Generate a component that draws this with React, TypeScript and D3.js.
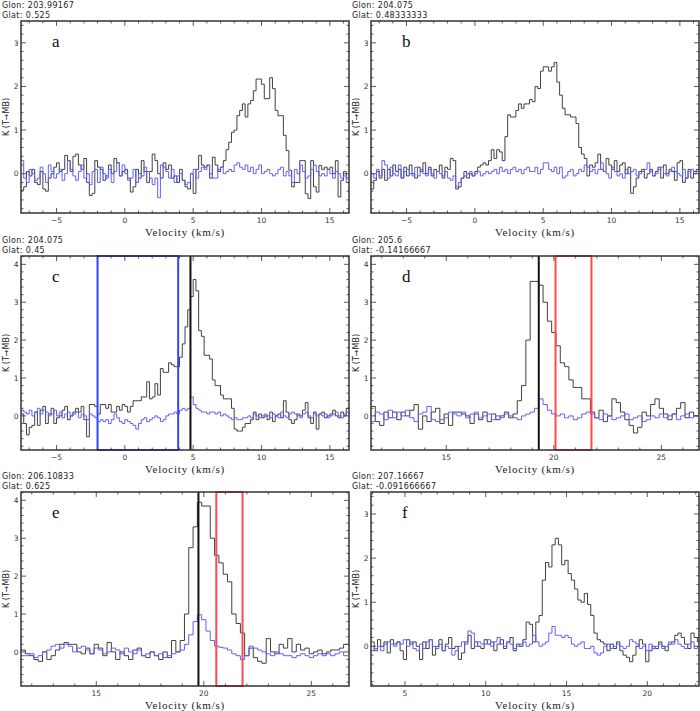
import * as React from "react";
import * as d3 from "d3";

// channel width of the spectra (km/s)
const DV = 0.2;

const letters = ["a", "b", "c", "d", "e", "f"];
const glon = ["203.99167", "204.075", "204.075", "205.6", "206.10833", "207.16667"];
const glat = ["0.525", "0.48333333", "0.45", "-0.14166667", "0.625", "-0.091666667"];

// axis ranges per panel
const xRanges = [[-7.6, 16.4], [-7.6, 16.4], [-7.6, 16.4], [11.5, 26.75], [11.5, 26.75], [2.9, 23.2]];
const yRanges = [[-0.9, 3.5], [-0.9, 3.5], [-0.9, 4.22], [-0.9, 4.22], [-0.9, 4.22], [-0.9, 3.5]];
const vStart = [-7.6, -7.6, -7.6, 11.5, 11.5, 2.9];

// marked velocities: black line, boxed window
const peakLine = [null, null, 4.8, 19.3, 19.75, null];
const windows = [null, null, [-2, 3.9], [20.08, 21.75], [20.58, 21.8], null];

const blackA = [
  -0.38, -0.3, 0.05, -0.05, 0.1, -0.2, -0.25, 0.05, -0.35, -0.4,
  -0.1, 0.0, 0.15, 0.25, 0.05, 0.1, 0.42, 0.3, 0.05, 0.4,
  0.45, 0.2, 0.1, 0.35, -0.2, -0.5, -0.45, 0.3, 0.15, 0.1,
  -0.15, -0.05, 0.2, 0.0, 0.35, 0.25, -0.05, 0.05, 0.1, -0.1,
  -0.42, -0.3, 0.1, -0.1, 0.3, 0.05, -0.2, 0.05, 0.45, 0.3,
  0.0, -0.1, 0.25, 0.1, 0.2, -0.1, -0.05, -0.2, 0.1, -0.15,
  -0.3, -0.35, 0.0, -0.45, 0.1, 0.42, 0.2, 0.15, 0.2, -0.1,
  0.38, 0.2, 0.05, 0.15, 0.3, 0.55, 0.72, 0.95, 1.0, 1.33,
  1.45, 1.6, 1.3, 1.6, 1.68, 1.9, 2.17, 2.17, 2.05, 1.72,
  1.72, 2.2, 1.95, 1.45, 1.33, 1.33, 0.88, 0.53, 0.08, -0.3,
  -0.2, -0.2, 0.3, 0.3, -0.46, -0.57, 0.3, -0.3, -0.42, 0.19,
  0.1, 0.15, 0.1, 0.15, 0.0, 0.3, -0.53, -0.15, 0.05, -0.1,
];
const blueA = [
  0.3, -0.1, -0.2, 0.1, 0.0, -0.15, -0.1, 0.15, 0.0, -0.2,
  0.2, 0.05, -0.1, 0.0, 0.1, -0.15, 0.0, 0.3, 0.1, -0.05,
  -0.15, 0.05, 0.2, -0.1, 0.0, -0.25, 0.05, 0.1, -0.2, 0.15,
  0.0, -0.1, 0.1, -0.2, 0.05, 0.25, -0.05, 0.2, 0.0, -0.15,
  -0.1, 0.1, -0.2, 0.0, -0.05, 0.15, 0.05, -0.1, -0.25, -0.1,
  -0.55, 0.2, 0.15, 0.05, -0.1, 0.1, -0.2, -0.05, 0.0, -0.15,
  -0.25, -0.2, 0.0, 0.1, -0.1, 0.05, 0.15, 0.1, 0.2, 0.0,
  -0.1, -0.1, 0.1, 0.15, 0.0, 0.05, 0.1, 0.05, 0.2, 0.25,
  0.15, 0.1, 0.2, 0.05, 0.15, 0.0, 0.1, 0.2, 0.0, 0.05,
  0.1, 0.0, -0.05, 0.0, 0.1, 0.15, -0.05, 0.05, -0.05, -0.2,
  0.1, 0.0, 0.2, 0.05, -0.1, -0.05, 0.1, 0.2, 0.05, -0.05,
  0.0, -0.05, 0.1, 0.0, -0.1, 0.05, 0.0, -0.1, -0.05, -0.2,
];

const blackB = [
  -0.35, -0.15, 0.05, -0.1, 0.1, -0.15, 0.1, -0.05, 0.2, 0.05,
  0.1, -0.1, 0.15, -0.05, 0.2, 0.0, -0.1, 0.15, 0.05, 0.25,
  0.0, 0.15, -0.05, 0.1, 0.05, 0.2, -0.1, 0.15, 0.1, 0.35,
  0.3, -0.35, -0.3, -0.1, 0.05, -0.1, 0.0, -0.05, 0.05, 0.15,
  0.2, 0.25, 0.2, 0.3, 0.55, 0.35, 0.55, 0.5, 0.3, 0.85,
  1.35, 1.3, 1.3, 1.45, 1.6, 1.5, 1.6, 1.6, 1.7, 1.65,
  2.0, 1.95, 2.35, 2.45, 2.45, 2.35, 2.45, 2.55, 2.1, 1.8,
  1.5, 1.35, 1.35, 1.3, 1.3, 1.15, 0.6, 0.45, 0.35, -0.05,
  0.2, 0.15, 0.25, 0.45, 0.1, 0.05, 0.35, 0.2, 0.1, 0.3,
  0.05, 0.2, 0.25, 0.0, 0.15, -0.45, -0.3, -0.1, 0.05, 0.1,
  -0.1, 0.0, 0.1, -0.05, 0.05, 0.15, -0.1, 0.2, 0.0, 0.1,
  0.05, -0.15, 0.25, 0.3, -0.2, -0.1, 0.1, -0.1, 0.05, 0.1,
];
const blueB = [
  0.0, -0.1, 0.1, -0.05, 0.3, 0.2, -0.1, 0.15, 0.0, -0.05,
  0.2, -0.1, 0.05, 0.1, 0.0, -0.05, 0.15, -0.05, 0.1, 0.0,
  -0.05, 0.1, 0.0, -0.1, 0.05, 0.0, -0.05, 0.05, -0.1, -0.15,
  -0.05, -0.3, -0.2, -0.1, -0.05, 0.0, 0.05, -0.05, 0.0, 0.05,
  -0.05, 0.0, 0.05, 0.0, 0.05, 0.1, 0.0, 0.15, 0.05, 0.1,
  0.0, 0.1, 0.15, 0.05, 0.1, 0.0, 0.1, 0.15, 0.05, 0.05,
  0.15, 0.0, 0.1, 0.25, 0.25, 0.1, 0.05, 0.15, 0.0, 0.15,
  -0.1, -0.05, 0.05, 0.1, -0.05, 0.0, 0.1, 0.05, 0.2, 0.15,
  0.05, 0.1, 0.0, 0.1, 0.25, 0.05, 0.0, -0.1, 0.15, 0.05,
  -0.05, 0.0, -0.1, 0.1, 0.0, 0.05, 0.1, -0.05, 0.0, 0.05,
  0.1, 0.25, 0.05, -0.05, 0.0, 0.1, 0.15, 0.0, -0.05, 0.05,
  0.15, 0.05, 0.0, -0.05, 0.1, -0.1, 0.05, 0.1, 0.0, 0.05,
];

const blackC = [
  0.05, -0.2, -0.5, -0.3, -0.25, 0.1, -0.25, 0.15, 0.25, -0.2,
  0.05, 0.2, -0.2, -0.05, 0.0, 0.15, 0.25, -0.1, 0.0, 0.1,
  0.2, 0.1, 0.25, -0.1, -0.55, 0.3, 0.3, 0.25, 0.05, 0.3,
  0.3, 0.2, 0.3, 0.1, 0.1, 0.25, 0.15, 0.3, 0.25, 0.1,
  0.25, 0.4, 0.4, 0.4, 0.5, 0.5, 0.9, 0.45, 0.5, 0.85,
  0.55, 1.25, 1.15, 1.15, 1.4, 1.35, 1.3, 1.3, 1.55, 1.9,
  2.35, 2.8, 3.15, 3.6, 3.3, 2.25, 2.1, 1.6, 1.6, 1.5,
  0.95, 0.8, 0.8, 0.55, 0.45, 0.45, 0.45, 0.2, -0.35, -0.4,
  -0.4, -0.3, -0.2, -0.2, -0.1, 0.1, -0.1, 0.05, -0.05, 0.0,
  -0.1, 0.1, -0.15, 0.0, 0.05, -0.05, 0.4, 0.1, -0.1, -0.2,
  -0.1, 0.05, 0.0, 0.15, 0.35, -0.05, -0.2, 0.1, -0.35, 0.05,
  0.1, -0.05, 0.0, 0.05, 0.15, 0.0, -0.05, 0.1, 0.0, 0.2,
];
const blueC = [
  0.15, 0.1, 0.05, 0.15, 0.0, 0.1, 0.2, 0.05, 0.15, 0.1,
  0.0, 0.05, 0.15, 0.0, 0.1, -0.05, 0.05, 0.1, 0.0, 0.05,
  0.1, -0.05, 0.05, 0.0, -0.1, 0.05, 0.0, -0.05, -0.15, -0.1,
  -0.15, -0.1, -0.2, -0.1, 0.05, -0.05, -0.15, -0.2, -0.1, -0.15,
  -0.2, -0.25, -0.35, -0.2, -0.1, -0.05, -0.15, -0.1, -0.05, 0.0,
  -0.05, -0.15, -0.1, 0.0, 0.05, 0.05, 0.1, 0.05, 0.15, 0.2,
  0.15, 0.2, 0.5, 0.3, 0.2, 0.15, 0.1, 0.1, 0.05, 0.1,
  0.1, 0.05, 0.1, 0.0, 0.05, 0.0, -0.05, -0.1, -0.05, -0.1,
  -0.1, -0.05, -0.05, 0.0, -0.05, 0.05, 0.0, -0.05, 0.0, 0.05,
  0.0, -0.05, 0.05, 0.0, -0.05, 0.1, 0.0, -0.05, 0.05, 0.1,
  0.05, 0.0, -0.05, 0.05, 0.1, 0.0, -0.05, 0.05, 0.0, 0.05,
  0.0, 0.05, -0.05, 0.0, 0.05, 0.1, 0.0, -0.05, 0.05, 0.1,
];

const blackD = [
  0.25, -0.15, -0.25, 0.1, -0.05, 0.1, -0.1, 0.1, 0.0, 0.15,
  0.3, -0.35, 0.0, -0.15, 0.1, 0.2, -0.2, 0.05, -0.25, 0.1,
  0.1, 0.05, 0.0, -0.2, 0.05, -0.1, 0.1, -0.15, 0.05, -0.1,
  0.0, 0.1, -0.05, 0.05, 0.4, 0.8, 2.0, 3.55, 3.55, 3.45,
  3.0, 2.5, 2.2, 1.85, 1.4, 1.3, 0.95, 0.75, 0.75, 0.45,
  0.45, 0.1, -0.05, 0.15, -0.15, 0.0, 0.45, 0.35, 0.1, -0.1,
  -0.25, -0.45, -0.3, 0.1, 0.0, 0.3, 0.45, 0.2, 0.05, -0.1,
  0.05, 0.2, 0.35, -0.05, 0.1, 0.0,
];
const blueD = [
  -0.15, 0.1, 0.05, -0.1, 0.15, -0.05, 0.1, 0.0, 0.15, -0.05,
  -0.15, 0.05, 0.1, 0.25, -0.1, -0.15, -0.1, -0.05, 0.1, 0.05,
  0.0, 0.1, -0.05, 0.05, 0.1, -0.05, 0.0, 0.05, -0.1, 0.0,
  -0.05, 0.05, 0.0, -0.05, -0.1, 0.0, 0.05, 0.1, 0.2, 0.45,
  0.3, 0.15, 0.05, 0.0, 0.05, -0.05, 0.0, -0.1, -0.05, 0.05,
  0.1, 0.05, -0.05, -0.1, 0.05, 0.0, -0.1, -0.05, 0.0, 0.05,
  -0.1, -0.05, 0.0, -0.15, -0.1, 0.0, -0.05, 0.05, -0.05, 0.0,
  0.05, -0.1, 0.0, 0.05, -0.05, 0.0,
];

const blackE = [
  0.05, -0.05, -0.1, -0.2, -0.25, 0.0, -0.2, -0.1, 0.05, 0.2,
  0.25, 0.2, 0.2, 0.0, -0.05, 0.1, -0.05, 0.2, 0.1, -0.1,
  0.25, 0.0, -0.2, 0.0, -0.1, -0.2, 0.05, 0.1, -0.1, -0.15,
  0.0, -0.1, -0.2, 0.0, -0.15, 0.3, 0.0, 0.3, 1.0, 2.75,
  3.3, 3.95, 3.85, 3.85, 3.0, 2.55, 2.35, 2.05, 1.85, 1.0,
  0.75, 0.5, -0.1, 0.1, -0.15, -0.25, -0.3, 0.35, 0.0, -0.05,
  0.2, 0.1, 0.35, 0.0, 0.2, 0.05, 0.1, -0.05, 0.0, 0.05,
  -0.05, 0.0, 0.05, 0.05, 0.1, 0.2,
];
const blueE = [
  -0.1, -0.1, -0.05, -0.15, -0.1, 0.0, 0.05, 0.15, 0.2, 0.1,
  0.2, 0.15, 0.0, 0.1, 0.15, 0.05, -0.05, 0.1, 0.05, -0.05,
  0.0, 0.1, 0.05, -0.05, 0.1, 0.0, -0.05, 0.05, -0.1, -0.05,
  0.0, -0.1, -0.05, -0.15, -0.1, -0.05, 0.0, 0.05, 0.2, 0.45,
  0.8, 0.98, 0.85, 0.55, 0.3, 0.15, 0.12, 0.1, 0.05, -0.05,
  -0.1, -0.2, -0.1, 0.15, 0.1, 0.05, 0.0, -0.05, -0.1, 0.0,
  -0.05, -0.1, -0.1, -0.15, -0.1, -0.05, -0.1, -0.15, -0.1, -0.05,
  -0.1, -0.05, -0.1, -0.05, 0.0, -0.1,
];

const blackF = [
  0.1, -0.1, 0.15, 0.0, 0.1, -0.15, 0.15, 0.05, 0.1, -0.1,
  -0.3, 0.15, 0.05, 0.1, 0.0, -0.3, 0.1, -0.05, 0.15, -0.2,
  0.0, 0.15, -0.1, 0.05, 0.2, -0.05, 0.0, -0.3, -0.15, 0.1,
  0.25, -0.05, 0.1, 0.0, -0.05, 0.15, 0.05, 0.1, -0.1, 0.05,
  0.15, -0.05, 0.1, 0.2, -0.1, 0.05, 0.0, 0.15, 0.55, 0.5,
  0.1, 0.55, 0.7, 1.5, 1.9, 1.8, 2.3, 2.45, 2.3, 1.85,
  1.95, 1.65, 1.5, 1.3, 1.05, 1.0, 1.2, 0.95, 0.7, 0.3,
  0.15, 0.1, 0.05, -0.1, 0.05, -0.05, 0.1, -0.1, -0.2, -0.25,
  -0.35, -0.2, 0.0, 0.15, 0.05, -0.35, -0.1, 0.0, -0.05, 0.1,
  0.0, -0.1, 0.05, 0.1, 0.25, 0.3, 0.2, 0.05, -0.05, 0.3,
  0.2, 0.1,
];
const blueF = [
  -0.1, -0.05, 0.0, -0.1, 0.05, 0.1, 0.05, 0.0, 0.1, 0.05,
  0.15, 0.0, 0.1, -0.05, -0.1, 0.05, -0.05, 0.1, 0.15, 0.0,
  -0.05, 0.05, -0.1, 0.0, -0.05, -0.2, -0.1, 0.0, 0.1, 0.05,
  0.35, 0.3, 0.0, 0.1, 0.05, 0.05, 0.15, 0.0, 0.1, 0.2,
  0.05, 0.0, 0.1, 0.05, -0.05, 0.0, 0.05, 0.1, 0.0, 0.05,
  0.25, 0.1, 0.0, 0.05, 0.1, 0.3, 0.45, 0.25, 0.25, 0.2,
  0.25, 0.2, 0.05, 0.0, 0.05, 0.1, -0.05, -0.05, 0.0, -0.15,
  -0.2, -0.15, 0.0, 0.05, -0.05, 0.0, 0.05, 0.0, -0.05, 0.0,
  0.15, 0.1, 0.05, -0.05, 0.0, -0.1, 0.05, -0.05, 0.0, 0.05,
  -0.05, 0.0, 0.1, 0.05, 0.15, 0.05, 0.0, -0.05, 0.05, 0.1,
  -0.05, 0.0,
];

const blackSpectra = [blackA, blackB, blackC, blackD, blackE, blackF];
const blueSpectra = [blueA, blueB, blueC, blueD, blueE, blueF];

const WIDTH = 700;
const HEIGHT = 711;
const COL_X = [21, 371];
const PLOT_W = 328;
const ROW_Y = [[21, 213], [256, 450], [492, 686]];
const AXIS = "#333";
const TICK_FONT = "'DejaVu Sans', sans-serif";

function Spectrum({ values, v0, x, y, color }) {
  const pts = values.map((t, i) => [v0 + i * DV, t]);
  pts.push([v0 + values.length * DV, values[values.length - 1]]);
  const line = d3.line()
    .x(d => x(d[0]))
    .y(d => y(d[1]))
    .curve(d3.curveStepAfter);
  return <path d={line(pts)} fill="none" stroke={color} strokeWidth={1} />;
}

function Panel({ idx }) {
  const col = idx % 2;
  const row = Math.floor(idx / 2);
  const left = COL_X[col];
  const [top, bottom] = ROW_Y[row];
  const right = left + PLOT_W;
  const x = d3.scaleLinear().domain(xRanges[idx]).range([left, right]);
  const y = d3.scaleLinear().domain(yRanges[idx]).range([bottom, top]);
  const [x0, x1] = xRanges[idx];
  const [y0, y1] = yRanges[idx];
  const xMajor = d3.range(Math.ceil(x0 / 5) * 5, x1, 5);
  const xMinor = d3.range(Math.ceil(x0), x1, 1).filter(v => v % 5 !== 0);
  const yMajor = d3.range(Math.ceil(y0), y1, 1);
  const yMinor = d3.range(Math.ceil(y0 * 5), y1 * 5).map(v => v / 5).filter(v => Math.abs(v - Math.round(v)) > 1e-6);
  const clipId = `clip${idx}`;
  const win = windows[idx];
  const winColor = idx === 2 ? "#3344ff" : "#ff4a4a";
  const fmt = v => (v < 0 ? "\u2212" + Math.abs(v) : String(v));
  const textX = 2 + col * 350;

  return (
    <g>
      <defs>
        <clipPath id={clipId}>
          <rect x={left} y={top} width={PLOT_W} height={bottom - top} />
        </clipPath>
      </defs>
      <text x={textX} y={top - 13} fontSize={8} fontFamily={TICK_FONT} fill="#222" letterSpacing={0.35}>
        {`Glon:  ${glon[idx]}`}
      </text>
      <text x={textX} y={top - 3.5} fontSize={8} fontFamily={TICK_FONT} fill="#222" letterSpacing={0.35}>
        {`Glat:  ${glat[idx]}`}
      </text>

      <g clipPath={`url(#${clipId})`}>
        <Spectrum values={blackSpectra[idx]} v0={vStart[idx]} x={x} y={y} color="#404040" />
        <Spectrum values={blueSpectra[idx]} v0={vStart[idx]} x={x} y={y} color="#6060f8" />
      </g>

      {win && (
        <rect x={x(win[0])} y={top} width={x(win[1]) - x(win[0])} height={bottom - top}
          fill="none" stroke={winColor} strokeWidth={2} />
      )}
      {peakLine[idx] !== null && (
        <line x1={x(peakLine[idx])} x2={x(peakLine[idx])} y1={top} y2={bottom} stroke="#111" strokeWidth={2} />
      )}

      {/* ticks on all four sides */}
      <g stroke={AXIS} strokeWidth={0.8}>
        {xMajor.map(v => (
          <g key={`xM${v}`}>
            <line x1={x(v)} x2={x(v)} y1={bottom} y2={bottom - 5} />
            <line x1={x(v)} x2={x(v)} y1={top} y2={top + 5} />
          </g>
        ))}
        {xMinor.map(v => (
          <g key={`xm${v}`}>
            <line x1={x(v)} x2={x(v)} y1={bottom} y2={bottom - 2.5} />
            <line x1={x(v)} x2={x(v)} y1={top} y2={top + 2.5} />
          </g>
        ))}
        {yMajor.map(v => (
          <g key={`yM${v}`}>
            <line x1={left} x2={left + 5} y1={y(v)} y2={y(v)} />
            <line x1={right} x2={right - 5} y1={y(v)} y2={y(v)} />
          </g>
        ))}
        {yMinor.map(v => (
          <g key={`ym${v}`}>
            <line x1={left} x2={left + 2.5} y1={y(v)} y2={y(v)} />
            <line x1={right} x2={right - 2.5} y1={y(v)} y2={y(v)} />
          </g>
        ))}
      </g>
      <rect x={left} y={top} width={PLOT_W} height={bottom - top} fill="none" stroke={AXIS} strokeWidth={1.5} />

      {xMajor.map(v => (
        <text key={`xl${v}`} x={x(v)} y={bottom + 10} fontSize={7.5} fontFamily={TICK_FONT}
          textAnchor="middle" fill="#333">{fmt(v)}</text>
      ))}
      {yMajor.map(v => (
        <text key={`yl${v}`} x={left - 2.5} y={y(v) + 2.7} fontSize={7.5} fontFamily={TICK_FONT}
          textAnchor="end" fill="#333">{fmt(v)}</text>
      ))}

      <text x={(left + right) / 2} y={bottom + 23} fontSize={11} fontFamily="'Liberation Serif', serif"
        textAnchor="middle" letterSpacing={0.8} fill="#222">Velocity  (km/s)</text>
      <text transform={`translate(${left - 12},${(top + bottom) / 2}) rotate(-90)`} fontSize={8}
        fontFamily={TICK_FONT} textAnchor="middle" fill="#222">{"K  (T\u2192MB)"}</text>

      <text x={left + 31} y={top + 26} fontSize={17} fontFamily="'Liberation Serif', serif" fill="#111">
        {letters[idx]}
      </text>
    </g>
  );
}

export default function App() {
  return (
    <svg width={WIDTH} height={HEIGHT} style={{ position: "absolute", left: 0, top: 0, background: "#fff" }}>
      <rect width={WIDTH} height={HEIGHT} fill="#fff" />
      {letters.map((_, i) => <Panel key={i} idx={i} />)}
    </svg>
  );
}
